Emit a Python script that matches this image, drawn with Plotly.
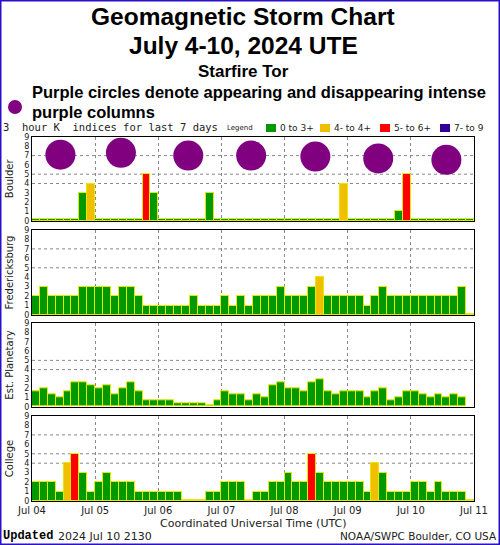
import plotly.graph_objects as go
from plotly.subplots import make_subplots

#### Chart values: 3-hour K indices, 8 per day, Jul 04 - Jul 10 2024

day_labels = ["Jul 04", "Jul 05", "Jul 06", "Jul 07", "Jul 08", "Jul 09", "Jul 10", "Jul 11"]
station_names = ["Boulder", "Fredericksburg", "Est. Planetary", "College"]

boulder = [0, 0, 0, 0, 0, 0, 3, 4,
           0, 0, 0, 0, 0, 0, 5, 3,
           0, 0, 0, 0, 0, 0, 3, 0,
           0, 0, 0, 0, 0, 0, 0, 0,
           0, 0, 0, 0, 0, 0, 0, 4,
           0, 0, 0, 0, 0, 0, 1, 5,
           0, 0, 0, 0, 0, 0, 0, 0]

fredericksburg = [2, 3, 2, 2, 2, 2, 3, 3,
                  3, 3, 2, 3, 3, 2, 1, 1,
                  1, 1, 1, 1, 2, 1, 1, 1,
                  2, 1, 2, 1, 2, 2, 2, 3,
                  2, 2, 2, 3, 4, 2, 2, 2,
                  2, 2, 1, 2, 3, 2, 2, 2,
                  2, 2, 2, 2, 2, 2, 3, 0]

planetary = [1.67, 2.0, 1.33, 1.0, 1.67, 2.67, 2.67, 2.33,
             2.0, 2.33, 1.33, 2.0, 2.67, 1.67, 0.67, 0.67,
             0.67, 0.67, 0.33, 0.33, 0.33, 0.33, 0, 0.67,
             1.67, 1.33, 1.33, 0.67, 1.33, 1.0, 2.33, 2.67,
             2.0, 2.0, 1.67, 2.67, 3.0, 1.67, 1.33, 1.67,
             1.67, 1.67, 1.0, 1.67, 2.0, 0.67, 1.0, 1.67,
             1.67, 1.33, 1.0, 1.33, 1.0, 1.33, 1.0, None]

college = [2, 2, 2, 1, 4, 5, 3, 1,
           2, 3, 2, 2, 2, 1, 1, 1,
           1, 1, 1, 0, 0, 0, 1, 1,
           2, 2, 2, 0, 1, 1, 2, 2,
           3, 2, 2, 5, 3, 2, 2, 2,
           2, 2, 1, 4, 3, 1, 1, 1,
           2, 2, 1, 2, 1, 1, 1, 0]

# purple circles drawn over the Boulder panel (hour, K level)
circle_hours = [10.8, 33.8, 59.4, 83.3, 107.7, 131.6, 157.5]
circle_levels = [7.1, 7.3, 7.0, 7.0, 6.9, 6.7, 6.55]

legend_labels = ["0 to 3+", "4- to 4+", "5- to 6+", "7- to 9"]
legend_colours = ["#009900", "#f0c000", "#ff0000", "#330099"]

W, H = 500, 545
L, R, T, B = 32, 26, 137, 44


def px(x):
    return (x - L) / (W - L - R)


def py(y):
    return (H - B - y) / (H - T - B)


def colour(v):
    if v >= 7:
        return legend_colours[3]
    if v >= 5:
        return legend_colours[2]
    if v >= 4:
        return legend_colours[1]
    return legend_colours[0]


fig = make_subplots(rows=4, cols=1, shared_xaxes=True)

hours = [1.5 + 3 * i for i in range(56)]
for row, vals in enumerate([boulder, fredericksburg, planetary, college], start=1):
    xs = [h for h, v in zip(hours, vals) if v is not None]
    vs = [v for v in vals if v is not None]
    fig.add_trace(go.Bar(
        x=xs,
        y=[max(v, 0.15) for v in vs],
        width=3,
        marker=dict(color=[colour(v) for v in vs], line=dict(color="#e8e800", width=1)),
        showlegend=False,
        hoverinfo="skip",
    ), row=row, col=1)

fig.add_trace(go.Scatter(
    x=circle_hours, y=circle_levels, mode="markers",
    marker=dict(size=30, color="#800080"),
    showlegend=False, hoverinfo="skip",
), row=1, col=1)

# panel positions (pixels from top)
panel_px = [(137, 220.7), (230, 315), (323.3, 406.7), (416, 501)]
grid_levels = [[4, 5, 7], [5, 7], [4, 5], [4, 5, 7]]

for row, (top, bot) in enumerate(panel_px, start=1):
    fig.update_yaxes(
        domain=[py(bot), py(top)], range=[0, 9], automargin=False,
        tickvals=list(range(10)), tickfont=dict(size=8, color="#222", family="DejaVu Sans"),
        ticks="", showgrid=False, zeroline=False,
        showline=True, mirror=True, linecolor="black", linewidth=1,
        title=dict(text=station_names[row - 1], font=dict(size=10, color="#222", family="DejaVu Sans"),
                   standoff=8),
        row=row, col=1,
    )
    fig.update_xaxes(
        range=[0, 168], tickvals=[24 * i for i in range(8)], ticktext=day_labels, automargin=False,
        showticklabels=(row == 4), tickfont=dict(size=10, color="#222", family="DejaVu Sans"),
        showgrid=True, gridcolor="#888", griddash="dot", gridwidth=1,
        showline=True, mirror=True, linecolor="black", linewidth=1, zeroline=False,
        row=row, col=1,
    )
    for lev in grid_levels[row - 1]:
        fig.add_hline(y=lev, line=dict(color="#888", width=1, dash="dot"), layer="below", row=row, col=1)

anns = [
    dict(text="<b>Geomagnetic Storm Chart</b>", x=px(243), y=py(16), size=24.5, anchor="center"),
    dict(text="<b>July 4-10, 2024 UTE</b>", x=px(243), y=py(45), size=24.5, anchor="center"),
    dict(text="<b>Starfire Tor</b>", x=px(243), y=py(72), size=17, anchor="center"),
    dict(text="<b>Purple circles denote appearing and disappearing intense</b>", x=px(30), y=py(92), size=16.5, anchor="left"),
    dict(text="<b>purple columns</b>", x=px(30), y=py(112), size=16.5, anchor="left"),
]
for a in anns:
    fig.add_annotation(text=a["text"], x=a["x"], y=a["y"], xref="paper", yref="paper",
                       xanchor=a["anchor"], yanchor="middle", showarrow=False,
                       font=dict(size=a["size"], color="black", family="Liberation Sans"))

fig.add_shape(type="circle", xref="paper", yref="paper",
              x0=px(8), x1=px(22), y0=py(114), y1=py(100),
              fillcolor="#800080", line=dict(width=0))

small = dict(color="#222", family="DejaVu Sans")
fig.add_annotation(text="3  hour K  indices for last 7 days", x=px(1), y=py(127), xref="paper", yref="paper",
                   xanchor="left", yanchor="middle", showarrow=False,
                   font=dict(size=10.5, color="#222", family="DejaVu Sans Mono"))
fig.add_annotation(text="Legend", x=px(225), y=py(128), xref="paper", yref="paper",
                   xanchor="left", yanchor="middle", showarrow=False, font=dict(size=7, **small))
legend_x = [266, 320, 380, 440]
for lx, lab, col in zip(legend_x, legend_labels, legend_colours):
    fig.add_shape(type="rect", xref="paper", yref="paper",
                  x0=px(lx), x1=px(lx + 10), y0=py(132), y1=py(124),
                  fillcolor=col, line=dict(width=0))
    fig.add_annotation(text=lab, x=px(lx + 12), y=py(128), xref="paper", yref="paper",
                       xanchor="left", yanchor="middle", showarrow=False, font=dict(size=9, **small))

fig.add_annotation(text="Coordinated Universal Time (UTC)", x=px(253), y=py(523), xref="paper", yref="paper",
                   xanchor="center", yanchor="middle", showarrow=False, font=dict(size=11, **small))
fig.add_annotation(text="<b>Updated</b>", x=px(1), y=py(536), xref="paper", yref="paper",
                   xanchor="left", yanchor="middle", showarrow=False,
                   font=dict(size=12, color="black", family="Liberation Mono"))
fig.add_annotation(text="2024 Jul 10 2130", x=px(56), y=py(536), xref="paper", yref="paper",
                   xanchor="left", yanchor="middle", showarrow=False, font=dict(size=11, **small))
fig.add_annotation(text="NOAA/SWPC Boulder, CO USA", x=px(338), y=py(536), xref="paper", yref="paper",
                   xanchor="left", yanchor="middle", showarrow=False, font=dict(size=10.5, **small))

# outer blue frame
fig.add_shape(type="rect", xref="paper", yref="paper",
              x0=px(0.5), x1=px(W - 0.5), y0=py(H - 0.5), y1=py(0.5),
              line=dict(color="#2a10c8", width=2))

fig.update_layout(
    width=W, height=H,
    margin=dict(l=L, r=R, t=T, b=B),
    paper_bgcolor="white", plot_bgcolor="white",
    bargap=0,
    showlegend=False,
)

# page body has a default 8px margin; drop it so the figure sits at the window corner
fig.write_html("out.html", config={"displayModeBar": False},
               post_script="document.body.style.margin='0';")
